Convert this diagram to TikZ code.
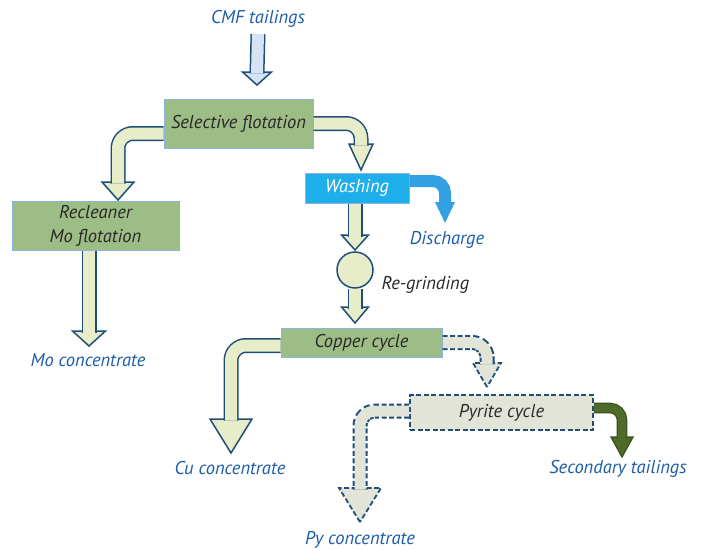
\documentclass[tikz,border=0pt]{standalone}
\usepackage{fontspec}
\setsansfont{PT Sans}
\renewcommand{\familydefault}{\sfdefault}
\definecolor{boxgreen}{RGB}{156,189,133}
\definecolor{boxedge}{RGB}{140,180,220}
\definecolor{flowline}{RGB}{31,78,121}
\definecolor{flowfill}{RGB}{230,237,200}
\definecolor{txtblue}{RGB}{28,92,170}
\definecolor{txtdark}{RGB}{40,40,40}
\definecolor{washblue}{RGB}{30,175,235}
\definecolor{dischblue}{RGB}{50,160,225}
\definecolor{pyfill}{RGB}{226,228,216}
\definecolor{tailgreen}{RGB}{78,107,42}
\definecolor{taildark}{RGB}{58,82,30}
\definecolor{cmffill}{RGB}{213,227,245}
\newcommand{\headdown}[4]{\draw[#1] (#2) -- ++(-#3,-#4) -- ++(2*#3,0) -- cycle;}
\begin{document}
\begin{tikzpicture}[x=1pt,y=-1pt,font=\itshape\fontsize{18.5}{20}\selectfont,
    stage/.style={draw=boxedge,line width=1pt,fill=boxgreen,text=txtdark,inner sep=0pt},
    outtext/.style={text=txtblue},
    flow/.style={draw=flowline,double=flowfill,double distance=12pt,line width=1.5pt,rounded corners=15pt},
    flowhead/.style={draw=flowline,fill=flowfill,line width=1.5pt},
    dashflow/.style={draw=pyfill,line width=11pt,rounded corners=15pt,
        preaction={draw=flowline,line width=15pt,dash pattern=on 5pt off 2.5pt}},
    dashhead/.style={draw=flowline,fill=pyfill,line width=1.8pt,dash pattern=on 5pt off 2.5pt}]
    \useasboundingbox[fill=white] (0,0) rectangle (703,549);
    \node[outtext] (cmf) at (258,19) {CMF tailings};
    \node[stage,minimum width=149pt,minimum height=49pt] (sel) at (238.5,123.5) {Selective flotation};
    \node[stage,minimum width=167pt,minimum height=49pt,align=center,
        font=\itshape\fontsize{18.5}{24}\selectfont] (recl) at (95.5,225.5) {Recleaner\\Mo flotation};
    \node[outtext] (mo) at (88,360) {Mo concentrate};
    \node[stage,fill=washblue,text=white,minimum width=104pt,minimum height=30pt] (wash) at (357,188) {Washing};
    \node[outtext] (disch) at (447,240) {Discharge};
    \node[circle,draw=flowline,fill=flowfill,line width=1.5pt,minimum size=36pt,inner sep=0pt] (grind) at (355,270) {};
    \node[anchor=west,text=txtdark] (regr) at (378,285) {Re-grinding};
    \node[stage,minimum width=161pt,minimum height=29pt] (copper) at (361.5,342.5) {Copper cycle};
    \node[outtext] (cu) at (230,468) {Cu concentrate};
    \node[stage,fill=pyfill,draw=flowline,line width=1.8pt,dash pattern=on 5pt off 2.5pt,
        minimum width=183pt,minimum height=35pt] (pyrite) at (501.5,412.5) {Pyrite cycle};
    \node[outtext] (py) at (360,540) {Py concentrate};
    \node[outtext] (sec) at (618,469) {Secondary tailings};
    \headdown{flowhead,fill=cmffill}{257,85}{14.5}{13}
    \draw[flow,double=cmffill] ([yshift=-3pt]cmf.south) -- (257,73.5);
    \headdown{flowhead}{118,200}{16}{18}
    \draw[flow] ([yshift=-10pt]sel.west) -| (118,183.5);
    \headdown{flowhead}{361,170}{12}{26}
    \draw[flow] (sel.east) -| (361,145.5);
    \headdown{flowhead}{89,346}{16.5}{15}
    \draw[flow] ([xshift=-6.5pt]recl.south) -- (89,332.5);
    \headdown{draw=none,fill=dischblue}{445,223}{10}{21}
    \draw[dischblue,line width=12pt,rounded corners=12pt] ([yshift=7pt]wash.east) -| (445,203.5);
    \headdown{flowhead}{355,250}{13.5}{15}
    \draw[flow] (grind.north |- wash.south) -- (355,236.5);
    \headdown{flowhead}{355,323}{13.5}{16}
    \draw[flow] (grind.south) -- (355,308.5);
    \headdown{flowhead}{231,453}{21}{34}
    \draw[flow] ([yshift=-3pt]copper.west) -| (231,420.5);
    \headdown{dashhead}{487,387}{14}{24}
    \draw[dashflow] (copper.east) -| (487,364.5);
    \headdown{dashhead}{360,522}{21}{34}
    \draw[dashflow] ([yshift=1.5pt]pyrite.west) -| (360,489.5);
    \headdown{draw=taildark,fill=tailgreen,line width=1.3pt}{622,457}{11}{20}
    \draw[draw=taildark,double=tailgreen,double distance=8pt,line width=1.3pt,rounded corners=12pt]
        ([yshift=4.5pt]pyrite.east) -| (622,438.5);
\end{tikzpicture}
\end{document}
